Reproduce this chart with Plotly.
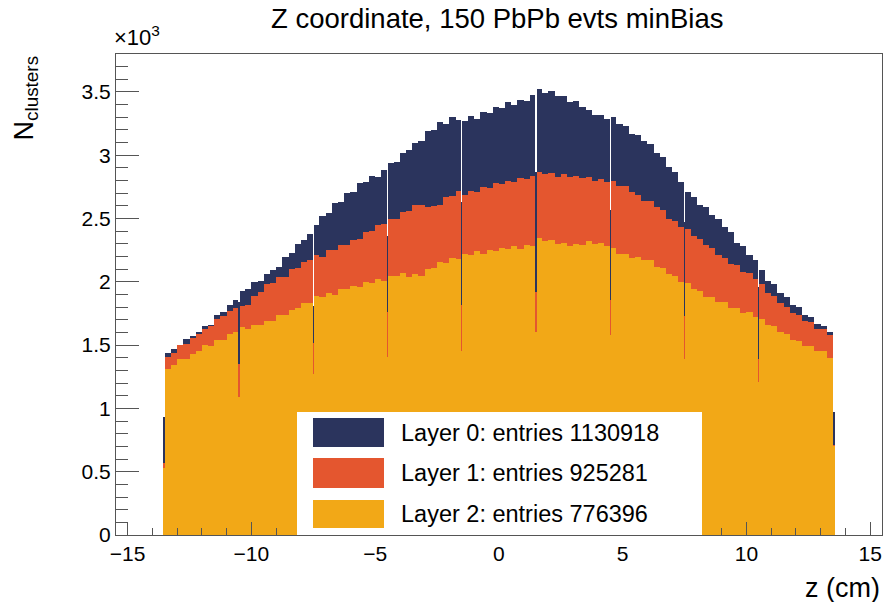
import plotly.graph_objects as go

# ---------------- data (counts in units of 10^3) ----------------
z_lo = -13.5          # first regular bin edge (cm)
bin_w = 0.25          # regular bin width (cm)

layer0 = [1.44, 1.47, 1.48, 1.55, 1.57, 1.60, 1.65, 1.66, 1.74, 1.76, 1.82, 1.86,
          1.93, 1.94, 2.00, 2.01, 2.06, 2.09, 2.12, 2.20, 2.23, 2.30, 2.33, 2.38,
          2.45, 2.52, 2.54, 2.62, 2.63, 2.70, 2.71, 2.78, 2.79, 2.84, 2.83, 2.88,
          2.94, 2.95, 3.02, 3.04, 3.10, 3.11, 3.19, 3.20, 3.26, 3.25, 3.30, 3.28,
          3.27, 3.31, 3.29, 3.34, 3.33, 3.38, 3.37, 3.42, 3.40, 3.44, 3.43, 3.48,
          3.52, 3.49, 3.51, 3.47, 3.47, 3.42, 3.43, 3.38, 3.36, 3.32, 3.32, 3.29,
          3.30, 3.25, 3.23, 3.17, 3.16, 3.11, 3.09, 3.02, 2.99, 2.91, 2.87, 2.79,
          2.71, 2.67, 2.61, 2.59, 2.53, 2.50, 2.43, 2.39, 2.31, 2.28, 2.21, 2.17,
          2.09, 2.01, 1.98, 1.91, 1.88, 1.82, 1.80, 1.74, 1.72, 1.67, 1.65, 1.60]

layer1 = [1.41, 1.44, 1.50, 1.51, 1.56, 1.59, 1.63, 1.65, 1.71, 1.73, 1.77, 1.79,
          1.81, 1.82, 1.89, 1.92, 1.98, 1.99, 2.04, 2.04, 2.10, 2.11, 2.16, 2.17,
          2.21, 2.20, 2.25, 2.25, 2.29, 2.29, 2.33, 2.34, 2.39, 2.40, 2.45, 2.46,
          2.50, 2.50, 2.55, 2.56, 2.61, 2.61, 2.59, 2.60, 2.61, 2.67, 2.68, 2.72,
          2.69, 2.72, 2.71, 2.75, 2.74, 2.78, 2.77, 2.80, 2.79, 2.82, 2.81, 2.84,
          2.87, 2.85, 2.86, 2.83, 2.85, 2.83, 2.84, 2.82, 2.83, 2.80, 2.81, 2.79,
          2.80, 2.76, 2.76, 2.71, 2.69, 2.64, 2.64, 2.59, 2.57, 2.50, 2.48, 2.43,
          2.42, 2.36, 2.34, 2.29, 2.27, 2.21, 2.19, 2.14, 2.13, 2.08, 2.07, 2.02,
          1.98, 1.91, 1.89, 1.83, 1.80, 1.75, 1.74, 1.69, 1.68, 1.63, 1.63, 1.58]

layer2 = [1.31, 1.34, 1.39, 1.39, 1.43, 1.45, 1.50, 1.49, 1.54, 1.54, 1.59, 1.60,
          1.64, 1.63, 1.66, 1.66, 1.69, 1.69, 1.74, 1.74, 1.78, 1.79, 1.83, 1.83,
          1.89, 1.88, 1.91, 1.90, 1.94, 1.94, 1.97, 1.96, 2.00, 1.99, 2.02, 2.01,
          2.05, 2.05, 2.07, 2.04, 2.06, 2.05, 2.10, 2.11, 2.16, 2.15, 2.19, 2.18,
          2.22, 2.21, 2.24, 2.22, 2.25, 2.24, 2.27, 2.26, 2.28, 2.26, 2.29, 2.28,
          2.35, 2.32, 2.33, 2.30, 2.31, 2.28, 2.30, 2.29, 2.32, 2.30, 2.31, 2.28,
          2.27, 2.22, 2.22, 2.19, 2.20, 2.17, 2.17, 2.12, 2.11, 2.06, 2.05, 2.00,
          1.99, 1.94, 1.93, 1.88, 1.88, 1.84, 1.84, 1.79, 1.79, 1.75, 1.76, 1.72,
          1.71, 1.66, 1.65, 1.60, 1.59, 1.54, 1.53, 1.49, 1.49, 1.45, 1.45, 1.40]

# narrow dips at the chip boundaries
dip_z = [-10.5, -7.5, -4.5, -1.5, 1.5, 4.5, 7.5, 10.5]
dip0 = [1.84, 1.81, 2.36, 2.63, 2.87, 2.57, 2.47, 1.96]
dip1 = [1.35, 1.52, 1.76, 1.82, 1.92, 1.86, 1.73, 1.39]
dip2 = [1.09, 1.27, 1.41, 1.45, 1.60, 1.58, 1.39, 1.21]

# partially covered bins at both ends of the acceptance
edge_z = [-13.53, 13.53]
edge0 = [0.93, 0.97]
edge1 = [0.57, 0.71]
edge2 = [0.53, 0.70]

labels = ["Layer 0", "Layer 1", "Layer 2"]
entries = [1130918, 925281, 776396]
colors = ["#2B345D", "#E4562F", "#F2A817"]

x_ticks = [-15, -10, -5, 0, 5, 10, 15]
y_ticks = [0, 0.5, 1, 1.5, 2, 2.5, 3, 3.5]

# ---------------- geometry helpers ----------------
DIP_HW = 0.03
EDGE_W = 0.06


def build(main, dips, edges):
    xs, ws, ys = [], [], []
    for i, v in enumerate(main):
        a = z_lo + i * bin_w
        b = a + bin_w
        if any(abs(a - d) < 1e-9 for d in dip_z):
            a += DIP_HW
        if any(abs(b - d) < 1e-9 for d in dip_z):
            b -= DIP_HW
        xs.append((a + b) / 2)
        ws.append(b - a)
        ys.append(v)
    for d, v in zip(dip_z, dips):
        xs.append(d)
        ws.append(2 * DIP_HW)
        ys.append(v)
    for c, v in zip(edge_z, edges):
        xs.append(c)
        ws.append(EDGE_W)
        ys.append(v)
    return xs, ws, ys


FONT = "Liberation Sans, Arial, Helvetica, sans-serif"
fig = go.Figure()
for name, main, dips, edges, col in zip(labels, [layer0, layer1, layer2],
                                        [dip0, dip1, dip2],
                                        [edge0, edge1, edge2], colors):
    xs, ws, ys = build(main, dips, edges)
    fig.add_trace(go.Bar(x=xs, y=ys, width=ws, name=name,
                         marker=dict(color=col, line=dict(width=0)),
                         showlegend=False))

# plot-area geometry in pixels (for the hand-drawn legend)
L, R, T, B = 116, 882, 54, 535
PW, PH = R - L, B - T


def px(xp):
    return (xp - L) / PW


def py(yp):
    return (B - yp) / PH


shapes = [dict(type="rect", xref="paper", yref="paper", layer="above",
               x0=px(297), x1=px(702), y0=py(535), y1=py(412),
               fillcolor="white", line=dict(width=0))]
annotations = []
rows = [(418, 447), (458, 488), (500, 528)]
for (top, bot), name, n, col in zip(rows, labels, entries, colors):
    shapes.append(dict(type="rect", xref="paper", yref="paper", layer="above",
                       x0=px(313), x1=px(384), y0=py(bot), y1=py(top),
                       fillcolor=col, line=dict(width=0)))
    annotations.append(dict(xref="paper", yref="paper", x=px(399),
                            y=py((top + bot) / 2), xanchor="left",
                            yanchor="middle", showarrow=False,
                            text=f"{name}: entries {n}",
                            font=dict(family=FONT, size=23.5, color="black")))

annotations += [
    dict(xref="paper", yref="paper", x=px(882), y=py(588), xanchor="right",
         yanchor="middle", showarrow=False, text="z (cm)",
         font=dict(family=FONT, size=27, color="black")),
    dict(xref="paper", yref="paper", x=px(25), y=py(54), xanchor="center",
         yanchor="top", showarrow=False, textangle=-90,
         text="N<sub>clusters</sub>",
         font=dict(family=FONT, size=27, color="black")),
    dict(xref="paper", yref="paper", x=px(112), y=py(52), xanchor="left",
         yanchor="bottom", showarrow=False, text="×10<sup>3</sup>",
         font=dict(family=FONT, size=22, color="black")),
    dict(xref="paper", yref="paper", x=px(497), y=py(1), xanchor="center",
         yanchor="top", showarrow=False,
         text="Z coordinate, 150 PbPb evts minBias",
         font=dict(family=FONT, size=27.5, color="black")),
]

axis_col = "#555555"
fig.update_layout(
    width=885, height=602,
    margin=dict(l=L, r=885 - R, t=T, b=602 - B),
    paper_bgcolor="white", plot_bgcolor="white",
    barmode="overlay", bargap=0,
    shapes=shapes, annotations=annotations,
    xaxis=dict(range=[-15.47, 15.48], tickvals=x_ticks, ticks="inside",
               ticklen=13, tickcolor=axis_col, showline=True, mirror=True,
               linecolor=axis_col, linewidth=1, showgrid=False, zeroline=False,
               tickfont=dict(family=FONT, size=21, color="black"),
               minor=dict(ticks="inside", ticklen=7, dtick=1,
                          tickcolor=axis_col, showgrid=False)),
    yaxis=dict(range=[0, 3.80], tickvals=y_ticks, ticks="inside",
               ticklen=23, tickcolor=axis_col, showline=True, mirror=True,
               linecolor=axis_col, linewidth=1, showgrid=False, zeroline=False,
               tickfont=dict(family=FONT, size=21, color="black"),
               minor=dict(ticks="inside", ticklen=12, dtick=0.1,
                          tickcolor=axis_col, showgrid=False)),
)

fig.write_html("out.html")
